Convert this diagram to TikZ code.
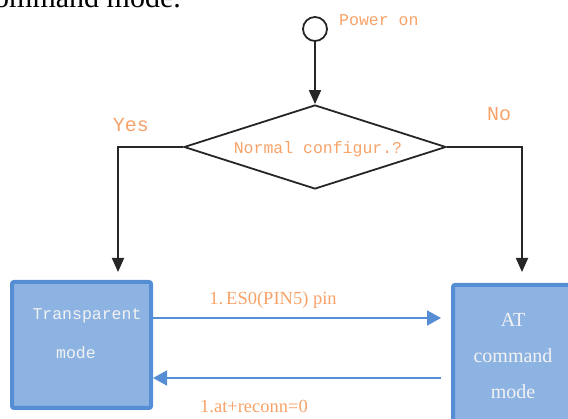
\documentclass[tikz,border=0pt]{standalone}
\usepackage{fontspec}
\setmainfont{Liberation Serif}
\setmonofont{Liberation Mono}
\usetikzlibrary{shapes.geometric,arrows.meta}
\definecolor{org}{RGB}{247,162,104}
\definecolor{boxfill}{RGB}{141,179,226}
\definecolor{boxline}{RGB}{85,142,213}
\definecolor{boxtext}{RGB}{242,242,242}
\tikzset{
  blk/.style={draw=black!85,line width=1.8pt},
  blkarrow/.style={blk,-{Triangle[width=12pt,length=14pt]}},
  bluearrow/.style={draw=boxline,line width=1.8pt,-{Triangle[width=15pt,length=14pt]}},
  monolbl/.style={text=org,font=\ttfamily\fontsize{16.5}{18}\selectfont,inner sep=0pt},
  bigmono/.style={text=org,font=\ttfamily\fontsize{20}{22}\selectfont,inner sep=0pt},
  serlbl/.style={text=org,font=\fontsize{18.5}{20}\selectfont,inner sep=0pt},
  modebox/.style={draw=boxline,fill=boxfill,line width=4pt,rounded corners=2pt,inner sep=0pt},
}
\begin{document}
\begin{tikzpicture}[x=1pt,y=-1pt]
\clip (0,0) rectangle (568,419);
\useasboundingbox (0,0) rectangle (568,419);
% cut-off heading text
\node[anchor=base east,inner sep=0pt,font=\fontsize{30}{32}\selectfont] (head) at (181,8) {command mode.};
% start
\node[circle,draw=black!85,line width=1.8pt,minimum size=24pt,inner sep=0pt] (pw) at (315,29) {};
\node[monolbl,anchor=west] (pwt) at (339,20) {Power on};
% decision
\node[diamond,blk,aspect=3,minimum width=262pt,minimum height=84pt,inner sep=0pt] (dec) at (315,147) {};
\node[monolbl] (dect) at (318,149) {Normal configur.?};
\node[bigmono] (yes) at (131,125) {Yes};
\node[bigmono] (no) at (499,114) {No};
% mode boxes
\node[modebox,minimum width=139pt,minimum height=126pt] (tb) at (81.5,345) {};
\node[text=boxtext,font=\ttfamily\fontsize{16.5}{18}\selectfont,inner sep=0pt] (tbt1) at (87,316) {Transparent};
\node[text=boxtext,font=\ttfamily\fontsize{16.5}{18}\selectfont,inner sep=0pt] (tbt2) at (76,353) {mode};
\node[modebox,minimum width=124pt,minimum height=160pt] (ab) at (515,365) {};
\node[text=boxtext,font=\fontsize{20}{36}\selectfont,align=center,inner sep=0pt] (abt) at (513,356) {AT\\command\\mode};
% connectors
\draw[blkarrow] (pw) -- (dec.north);
\coordinate (yt) at (118,272);
\coordinate (nt) at (522,272);
\draw[blkarrow] (dec.west) -| (yt);
\draw[blkarrow] (dec.east) -| (nt);
\coordinate (a1s) at (153,318);
\coordinate (a1e) at (441,318);
\coordinate (a2s) at (441,378);
\coordinate (a2e) at (153,378);
\draw[bluearrow] (a1s) -- (a1e);
\draw[bluearrow] (a2s) -- (a2e);
\node[serlbl] (l1) at (273,300) {1.\,ES0(PIN5) pin};
\node[serlbl] (l2) at (254,406) {1.at+reconn=0};
\end{tikzpicture}
\end{document}
